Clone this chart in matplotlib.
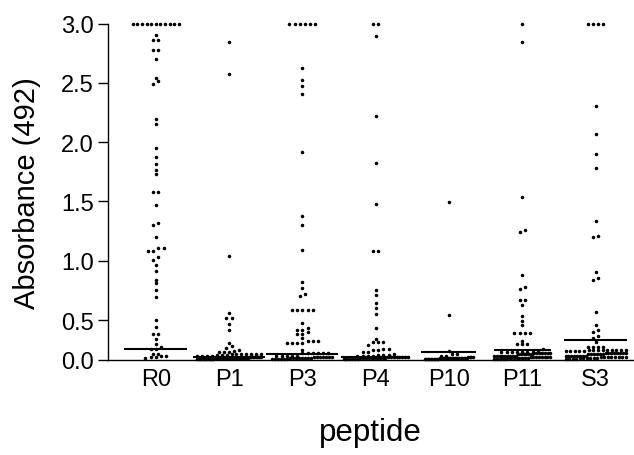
import numpy as np
import matplotlib
matplotlib.use("Agg")
import matplotlib.pyplot as plt

plt.rcParams['font.family'] = ['Liberation Sans', 'DejaVu Sans']

categories = ["R0", "P1", "P3", "P4", "P10", "P11", "S3"]

r0 = [3.0]*11 + [2.905, 2.861, 2.861, 2.776, 2.776, 2.700, 2.543, 2.517, 2.492,
                 2.192, 2.152, 1.952, 1.876, 1.817, 1.766, 1.733, 1.576, 1.576,
                 1.468, 1.322, 1.300, 1.201, 1.103, 1.103, 1.078, 1.078, 1.027,
                 1.007, 0.965, 0.909, 0.838, 0.812, 0.753, 0.698, 0.504, 0.416,
                 0.321, 0.321, 0.263, 0.196, 0.167, 0.133, 0.132, 0.081, 0.081,
                 0.054, 0.054, 0.033, 0.033, 0.030]
p1 = [2.841, 2.576, 1.041, 0.557, 0.517, 0.517, 0.454, 0.376, 0.217, 0.179,
      0.154, 0.128, 0.113, 0.103, 0.103, 0.103] + [0.077]*7 + [0.062]*3 + \
     [0.054]*4 + [0.041]*8 + [0.030]*10 + [0.019]*11 + [0.008]*11
p3 = [3.0]*6 + [2.624, 2.526, 2.475, 2.402, 1.918, 1.378, 1.297, 1.091, 0.819,
                0.771, 0.720, 0.700] + [0.582]*5 + \
     [0.463, 0.404, 0.379, 0.379, 0.355, 0.328, 0.328, 0.271] + [0.237]*3 + \
     [0.207]*4 + [0.120] + [0.086]*6 + [0.055]*5 + [0.039]*7 + [0.025]*8 + [0.011]*6
p4 = [3.0]*2 + [2.892, 2.217, 1.825, 1.477, 1.078, 1.078, 0.754, 0.711, 0.641,
                0.605, 0.549, 0.396, 0.263, 0.222, 0.222, 0.222, 0.192, 0.133,
                0.133, 0.127, 0.127, 0.105, 0.097, 0.075] + [0.062]*3 + \
     [0.055]*4 + [0.039]*8 + [0.022]*10 + [0.008]*6
p10 = [1.496, 0.543, 0.109, 0.077, 0.077, 0.055, 0.055] + [0.041]*4 + \
      [0.030]*9 + [0.019]*10 + [0.008]*10
p11 = [3.0, 2.841, 1.536, 1.257, 1.238, 0.880, 0.779, 0.765, 0.669, 0.669,
       0.627, 0.534, 0.487, 0.439] + [0.340]*4 + [0.241] + [0.198]*3 + [0.132] + \
      [0.105]*8 + [0.088]*7 + [0.075]*6 + [0.055]*9 + [0.039]*8 + [0.025]*8 + \
      [0.011]*5
s3 = [3.0]*4 + [2.304, 2.068, 1.896, 1.783, 1.336, 1.209, 1.201, 0.906, 0.855,
                0.841, 0.567, 0.436, 0.374, 0.345, 0.302, 0.275, 0.219] + \
     [0.167]*4 + [0.125]*9 + [0.109]*5 + [0.084]*8 + [0.073]*6 + [0.055]*8 + \
     [0.039]*8 + [0.025]*6 + [0.011]*4

series = [r0, p1, p3, p4, p10, p11, s3]
cutoffs = [0.137, 0.040, 0.070, 0.036, 0.095, 0.121, 0.250]
cutoff_widths = [0.86, 0.98, 0.98, 0.94, 0.75, 0.77, 0.86]

yticks = [0.0, 0.5, 1.0, 1.5, 2.0, 2.5, 3.0]

# --- segmented value axis: 0-0.5 is drawn compressed, as in the original ---
SEG = 0.5
K = 0.6745  # relative stretch of the lower segment


def fwd(y):
    y = np.asarray(y, dtype=float)
    return np.where(y < SEG, y*K, SEG*K + (y - SEG))


def inv(t):
    t = np.asarray(t, dtype=float)
    return np.where(t < SEG*K, t/K, (t - SEG*K) + SEG)


W, H = 634, 456
fig = plt.figure(figsize=(W/100, H/100), dpi=100)
left_px, right_px, top_px, bottom_px = 107.5, 633.0, 24.5, 361.0
ax = fig.add_axes([left_px/W, (H-bottom_px)/H, (right_px-left_px)/W,
                   (bottom_px-top_px)/H])
ax.set_yscale('function', functions=(fwd, inv))
xlim = (-0.658, 6.51)
ylim = (0.0, 3.0)
ax.set_xlim(*xlim)
ax.set_ylim(*ylim)

ppx = (right_px-left_px)/(xlim[1]-xlim[0])
ppy = (bottom_px-top_px)/(fwd(ylim[1]) - fwd(ylim[0]))
D = 5.2          # nominal dot spacing (px)
BIN = 3.0        # row height (px)
max_half = [23, 32, 30, 32, 24, 28, 30]   # half-width limit of a row (px)


def rows_layout(vals, mh):
    v = np.sort(np.asarray(vals, dtype=float))
    ypx = fwd(v)*ppy
    xs = np.zeros(len(v))
    start = 0
    while start < len(v):
        end = start
        while end + 1 < len(v) and ypx[end+1] - ypx[start] <= BIN:
            end += 1
        n = end - start + 1
        sp = D if n == 1 else min(D, 2*mh/(n-1))
        xs[start:end+1] = (np.arange(n) - (n-1)/2)*sp
        start = end + 1
    return xs/ppx, v


for i, vals in enumerate(series):
    dx, yv = rows_layout(vals, max_half[i])
    ax.scatter(i + dx, yv, s=6.5, c='black', linewidths=0, clip_on=False, zorder=2)
    w = cutoff_widths[i]
    ax.hlines(cutoffs[i], i - w/2, i + w/2, colors='black', linewidth=1.5, zorder=3)

for s in ['top', 'right']:
    ax.spines[s].set_visible(False)
for s in ['left', 'bottom']:
    ax.spines[s].set_linewidth(1.0)

ax.set_yticks(yticks)
ax.set_yticklabels([f"{t:.1f}" for t in yticks])
ax.yaxis.set_minor_locator(matplotlib.ticker.NullLocator())
ax.set_xticks(range(len(categories)))
ax.set_xticklabels(categories)
ax.tick_params(axis='y', direction='out', length=7, width=1.0, labelsize=17, pad=3)
ax.tick_params(axis='x', length=0, labelsize=17, pad=6)

ax.set_ylabel("Absorbance (492)", fontsize=21)
ax.yaxis.set_label_coords(-0.126, 0.5)
ax.set_xlabel("peptide", fontsize=22.5)
ax.xaxis.set_label_coords(0.5, -0.238)
ax.xaxis.label.set_verticalalignment('baseline')

fig.savefig("out.png", dpi=100)
